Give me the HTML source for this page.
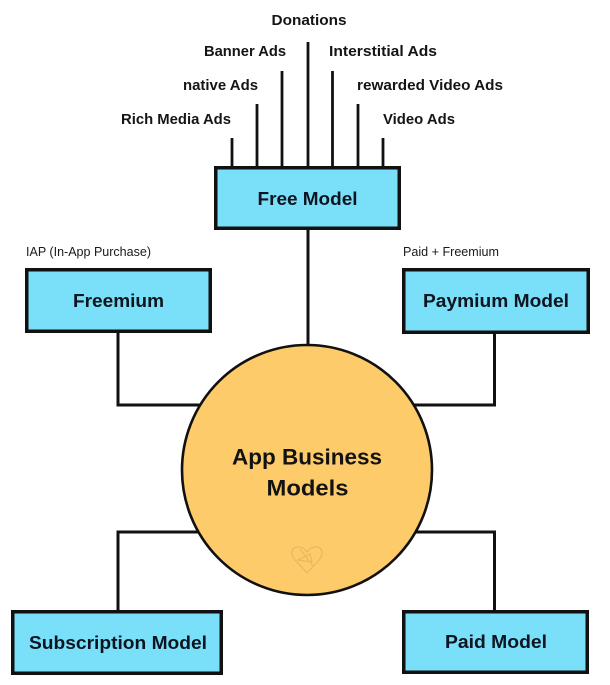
<!DOCTYPE html>
<html>
<head>
<meta charset="utf-8">
<style>
  html, body { margin: 0; padding: 0; background: #ffffff; }
  body { width: 610px; height: 685px; overflow: hidden; }
  svg { display: block; }
  .lbl { font-family: "Liberation Sans", "DejaVu Sans", sans-serif; font-weight: bold; font-size: 14.8px; fill: #151515; }
  .sm { font-family: "Liberation Sans", "DejaVu Sans", sans-serif; font-weight: normal; font-size: 12.5px; fill: #1a1a1a; }
  .bx { font-family: "Liberation Sans", "DejaVu Sans", sans-serif; font-weight: bold; font-size: 18px; fill: #0d1520; }
  .ctr { font-family: "Liberation Sans", "DejaVu Sans", sans-serif; font-weight: bold; font-size: 22.5px; fill: #121212; }
</style>
</head>
<body>
<svg width="610" height="685" viewBox="0 0 610 685" xmlns="http://www.w3.org/2000/svg">
  <!-- top labels -->
  <text class="lbl" x="309" y="21" text-anchor="middle" dominant-baseline="central" textLength="75" lengthAdjust="spacingAndGlyphs">Donations</text>
  <text class="lbl" x="245" y="52" text-anchor="middle" dominant-baseline="central" textLength="82" lengthAdjust="spacingAndGlyphs">Banner Ads</text>
  <text class="lbl" x="383" y="52" text-anchor="middle" dominant-baseline="central" textLength="108" lengthAdjust="spacingAndGlyphs">Interstitial Ads</text>
  <text class="lbl" x="220.5" y="86" text-anchor="middle" dominant-baseline="central" textLength="75" lengthAdjust="spacingAndGlyphs">native Ads</text>
  <text class="lbl" x="430" y="86" text-anchor="middle" dominant-baseline="central" textLength="146" lengthAdjust="spacingAndGlyphs">rewarded Video Ads</text>
  <text class="lbl" x="176" y="120" text-anchor="middle" dominant-baseline="central" textLength="110" lengthAdjust="spacingAndGlyphs">Rich Media Ads</text>
  <text class="lbl" x="419" y="120" text-anchor="middle" dominant-baseline="central" textLength="72" lengthAdjust="spacingAndGlyphs">Video Ads</text>

  <!-- top vertical lines -->
  <g stroke="#111" stroke-width="2.8" fill="none">
    <line x1="232" y1="138" x2="232" y2="168"/>
    <line x1="257" y1="104" x2="257" y2="168"/>
    <line x1="282" y1="71" x2="282" y2="168"/>
    <line x1="308" y1="42" x2="308" y2="168"/>
    <line x1="332.5" y1="71" x2="332.5" y2="168"/>
    <line x1="358" y1="104" x2="358" y2="168"/>
    <line x1="383" y1="138" x2="383" y2="168"/>
  </g>

  <!-- connectors -->
  <g stroke="#111" stroke-width="3" fill="none">
    <line x1="308" y1="229" x2="308" y2="346"/>
    <polyline points="118,332 118,405 220,405"/>
    <polyline points="494.5,332 494.5,405 395,405"/>
    <polyline points="220,532 118,532 118,612"/>
    <polyline points="395,532 494.5,532 494.5,612"/>
  </g>

  <!-- boxes -->
  <g fill="#7adff8" stroke="#111" stroke-width="3.5">
    <rect x="215.75" y="167.75" width="183.5" height="60.5"/>
    <rect x="26.75" y="269.75" width="183.5" height="61.5"/>
    <rect x="403.75" y="269.75" width="184.5" height="62.5"/>
    <rect x="12.75" y="611.75" width="208.5" height="61.5"/>
    <rect x="403.75" y="611.75" width="183.5" height="60.5"/>
  </g>

  <!-- circle -->
  <circle cx="307" cy="470" r="125" fill="#fdcb69" stroke="#111" stroke-width="2.6"/>

  <!-- heart watermark -->
  <g fill="none" stroke="#eab85c" stroke-width="1.2">
    <path d="M307,573 L295,560 C290,554 291,548 297,547 C301,546 305,549 307,552 C309,549 313,546 317,547 C323,548 324,554 319,560 Z"/>
    <path d="M300,549 L313,566"/>
    <path d="M298,560 L310,554 L312,562 Z"/>
  </g>

  <!-- box text -->
  <text class="bx" x="307.5" y="199" text-anchor="middle" dominant-baseline="central" textLength="100" lengthAdjust="spacingAndGlyphs">Free Model</text>
  <text class="bx" x="118.5" y="301" text-anchor="middle" dominant-baseline="central" textLength="91" lengthAdjust="spacingAndGlyphs">Freemium</text>
  <text class="bx" x="496" y="301" text-anchor="middle" dominant-baseline="central" textLength="146" lengthAdjust="spacingAndGlyphs">Paymium Model</text>
  <text class="bx" x="118" y="643" text-anchor="middle" dominant-baseline="central" textLength="178" lengthAdjust="spacingAndGlyphs">Subscription Model</text>
  <text class="bx" x="496" y="642" text-anchor="middle" dominant-baseline="central" textLength="102" lengthAdjust="spacingAndGlyphs">Paid Model</text>

  <!-- small labels -->
  <text class="sm" x="26" y="252" dominant-baseline="central" textLength="125" lengthAdjust="spacingAndGlyphs">IAP (In-App Purchase)</text>
  <text class="sm" x="403" y="252" dominant-baseline="central" textLength="96" lengthAdjust="spacingAndGlyphs">Paid + Freemium</text>

  <!-- center text -->
  <text class="ctr" x="307" y="457" text-anchor="middle" dominant-baseline="central" textLength="150" lengthAdjust="spacingAndGlyphs">App Business</text>
  <text class="ctr" x="307.5" y="488" text-anchor="middle" dominant-baseline="central" textLength="82" lengthAdjust="spacingAndGlyphs">Models</text>
</svg>
</body>
</html>
